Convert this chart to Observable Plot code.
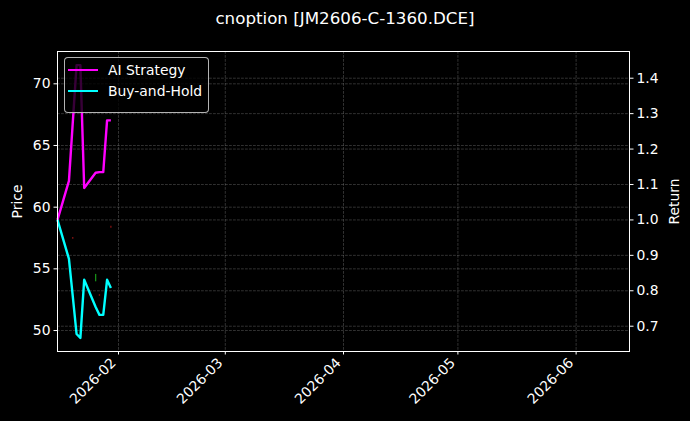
<!DOCTYPE html>
<html>
<head>
<meta charset="utf-8">
<script src="https://cdn.jsdelivr.net/npm/d3@7"></script>
<script src="https://cdn.jsdelivr.net/npm/@observablehq/plot@0.6"></script>
<style>
  html, body { margin: 0; padding: 0; background: #000; }
  #wrap { position: relative; width: 690px; height: 421px; background: #000; overflow: hidden; }
  #title { height: 40px; line-height: 36px; text-align: center; color: #fff;
           font-family: "DejaVu Sans", sans-serif; font-size: 16.7px; }
  #legend { position: absolute; left: 64px; top: 57px; width: 143px; height: 54px;
            background: rgba(0,0,0,0.78); border: 1px solid rgba(210,210,210,0.85); border-radius: 4px;
            font-family: "DejaVu Sans", sans-serif; font-size: 13.9px; color: #fff; }
  .row { position: absolute; left: 0; height: 20px; display: flex; align-items: center; }
  .swatch { width: 30px; height: 2.8px; margin-left: 3px; margin-right: 10px; }
</style>
</head>
<body>
<div id="wrap">
  <div id="title">cnoption [JM2606-C-1360.DCE]</div>
  <div id="chart"></div>
  <div id="legend">
    <div class="row" style="top:2px"><div class="swatch" style="background:#ff00ff"></div><span>AI Strategy</span></div>
    <div class="row" style="top:23px"><div class="swatch" style="background:#00ffff"></div><span>Buy-and-Hold</span></div>
  </div>
</div>
<script>
// ---- data ----
const dates = ["2026-01-16","2026-01-19","2026-01-20","2026-01-21","2026-01-22","2026-01-23",
               "2026-01-26","2026-01-27","2026-01-28","2026-01-29","2026-01-30"];
const aiStrategy = [1.000, 1.110, 1.274, 1.437, 1.437, 1.090, 1.133, 1.135, 1.135, 1.281, 1.281];
const buyAndHold = [1.000, 0.890, 0.785, 0.678, 0.667, 0.831, 0.754, 0.732, 0.732, 0.831, 0.808];

const candleDates = ["2026-01-20","2026-01-26","2026-01-27","2026-01-30"];
const candleLow   = [57.40, 53.95, 52.78, 58.30];
const candleHigh  = [57.55, 54.55, 52.90, 58.45];
const candleUp    = [false, true, false, false];

const priceTicks  = [50, 55, 60, 65, 70];
const returnTicks = [0.7, 0.8, 0.9, 1.0, 1.1, 1.2, 1.3, 1.4];
const monthTicks  = ["2026-02-01","2026-03-01","2026-04-01","2026-05-01","2026-06-01"];

const xDomain = ["2026-01-16","2026-06-15"];
const priceDomain  = [48.30, 72.62];
const returnDomain = [0.6286, 1.4754];

// ---- build tables ----
const parse = d3.utcParse("%Y-%m-%d");
const rToP = r => priceDomain[0] + (r - returnDomain[0]) / (returnDomain[1] - returnDomain[0]) * (priceDomain[1] - priceDomain[0]);
const pToR = p => returnDomain[0] + (p - priceDomain[0]) / (priceDomain[1] - priceDomain[0]) * (returnDomain[1] - returnDomain[0]);

const series = [];
dates.forEach((d, i) => {
  series.push({date: parse(d), r: aiStrategy[i], name: "AI Strategy"});
});
dates.forEach((d, i) => {
  series.push({date: parse(d), r: buyAndHold[i], name: "Buy-and-Hold"});
});
const candles = candleDates.map((d, i) => ({date: parse(d), lo: candleLow[i], hi: candleHigh[i], up: candleUp[i]}));
const months = monthTicks.map(parse);
const gridStyle = {stroke: "#b0b0b0", strokeOpacity: 0.4, strokeWidth: 0.7, strokeDasharray: "2.8,1.2"};

const chart = Plot.plot({
  width: 690,
  height: 381,
  marginTop: 11,
  marginBottom: 70,
  marginLeft: 57,
  marginRight: 61,
  style: {background: "#000", color: "#fff", fontFamily: "DejaVu Sans, sans-serif", fontSize: "13.9px", overflow: "visible"},
  x: {type: "utc", domain: xDomain.map(parse)},
  y: {domain: priceDomain},
  marks: [
    Plot.gridX(months, gridStyle),
    Plot.gridY(priceTicks, gridStyle),
    Plot.gridY(returnTicks.map(rToP), gridStyle),
    Plot.ruleX(candles, {x: "date", y1: "lo", y2: "hi", stroke: d => d.up ? "#1fbf1f" : "#b01818", strokeWidth: 1.3, strokeOpacity: 0.75}),
    Plot.line(series, {x: "date", y: d => rToP(d.r), z: "name",
      stroke: d => d.name === "AI Strategy" ? "#ff00ff" : "#00ffff",
      strokeWidth: 2.4, strokeLinejoin: "round", strokeLinecap: "butt"}),
    Plot.frame({stroke: "#fff", strokeWidth: 1}),
    Plot.axisY(priceTicks, {anchor: "left", tickSize: 3.5, tickPadding: 3.5, stroke: "#fff",
      label: "Price", labelAnchor: "center", labelArrow: "none", labelOffset: 45,
      tickFormat: d => String(d)}),
    Plot.axisY(returnTicks.map(rToP), {anchor: "right", tickSize: 3.5, tickPadding: 3.5, stroke: "#fff",
      label: "Return", labelAnchor: "center", labelArrow: "none", labelOffset: 49,
      tickFormat: p => pToR(p).toFixed(1)}),
    Plot.axisX(months, {anchor: "bottom", tickSize: 3.5, stroke: "#fff", text: null, label: null}),
    Plot.axisX(months, {anchor: "bottom", tickSize: 0, tickPadding: 7, stroke: "#fff",
      tickRotate: -45, tickFormat: d3.utcFormat("%Y-%m"), label: null, dx: -5, dy: 2})
  ]
});
document.getElementById("chart").appendChild(chart);
</script>
</body>
</html>
